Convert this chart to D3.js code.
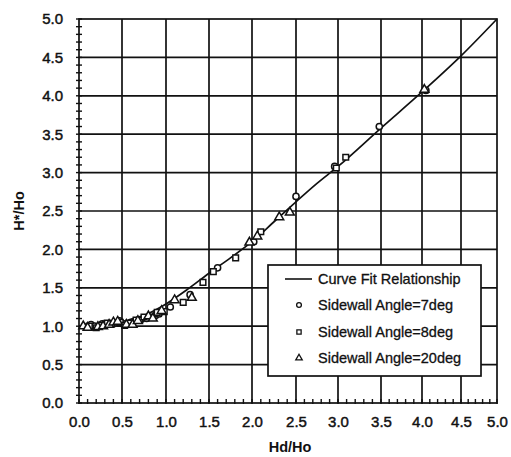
<!DOCTYPE html>
<html>
<head>
<meta charset="utf-8">
<script src="https://cdn.jsdelivr.net/npm/d3@7"></script>
<style>
  body { margin: 0; background: #fff; }
  svg { font-family: "Liberation Sans", Arial, sans-serif; }
</style>
</head>
<body>
<svg id="chart" width="511" height="457"></svg>
<script>
// tick values (both axes use 0.0 .. 5.0 by 0.5)
const tickVals = [0, 0.5, 1, 1.5, 2, 2.5, 3, 3.5, 4, 4.5, 5];

// curve fit relationship
const curveX = [0, 0.25, 0.5, 0.75, 1.0, 1.25, 1.5, 1.75, 2.0, 2.25, 2.5, 2.75, 3.0, 3.5, 4.0, 4.5, 5.0];
const curveY = [1.0, 1.01, 1.05, 1.14, 1.29, 1.48, 1.69, 1.89, 2.1, 2.36, 2.62, 2.86, 3.08, 3.58, 4.05, 4.52, 5.0];

// sidewall angle = 7deg (circles)
const angle7X = [0.08, 0.14, 0.18, 0.27, 0.3, 0.42, 0.47, 0.52, 0.6, 0.63, 0.72, 0.78, 0.88, 0.92, 1.05, 1.28, 1.6, 2.02, 2.5, 2.96, 3.48, 4.05];
const angle7Y = [0.99, 1.02, 1.0, 1.03, 1.02, 1.04, 1.07, 1.03, 1.05, 1.06, 1.09, 1.1, 1.14, 1.16, 1.25, 1.41, 1.76, 2.1, 2.69, 3.08, 3.6, 4.07];

// sidewall angle = 8deg (squares)
const angle8X = [0.12, 0.2, 0.25, 0.33, 0.38, 0.48, 0.53, 0.58, 0.66, 0.7, 0.75, 0.85, 0.9, 0.98, 1.2, 1.43, 1.55, 1.81, 2.1, 2.98, 3.09];
const angle8Y = [1.0, 0.98, 1.01, 1.04, 1.03, 1.05, 1.01, 1.04, 1.08, 1.08, 1.12, 1.12, 1.18, 1.19, 1.31, 1.57, 1.71, 1.89, 2.23, 3.06, 3.2];

// sidewall angle = 20deg (triangles)
const angle20X = [0.05, 0.1, 0.22, 0.28, 0.35, 0.4, 0.45, 0.55, 0.62, 0.68, 0.8, 0.85, 0.95, 1.1, 1.3, 1.97, 2.06, 2.31, 2.43, 4.03];
const angle20Y = [1.0, 0.98, 0.99, 1.0, 1.02, 1.05, 1.06, 1.02, 1.02, 1.07, 1.13, 1.1, 1.2, 1.34, 1.37, 2.09, 2.17, 2.42, 2.48, 4.08];

const legendLabels = ["Curve Fit Relationship", "Sidewall Angle=7deg", "Sidewall Angle=8deg", "Sidewall Angle=20deg"];

const svg = d3.select("#chart");
const plotTop = 19, plotBottom = 403;

// the scanned x axis is slightly uneven, so map each grid value to where it sits
const x = d3.scaleLinear()
  .domain(tickVals)
  .range([79, 122, 166, 209, 252, 296, 338, 381, 422, 461, 497]);
const y = d3.scaleLinear().domain([0, 5]).range([plotBottom, plotTop]);
const plotLeft = x(0), plotRight = x(5);

// grid
const grid = svg.append("g").attr("stroke", "#111").attr("stroke-width", 1.7);
grid.selectAll(".gx").data(tickVals.slice(1, -1)).enter().append("line")
  .attr("x1", d => x(d)).attr("x2", d => x(d)).attr("y1", plotTop).attr("y2", plotBottom);
grid.selectAll(".gy").data(tickVals.slice(1, -1)).enter().append("line")
  .attr("y1", d => y(d)).attr("y2", d => y(d)).attr("x1", plotLeft).attr("x2", plotRight);

// frame
svg.append("rect")
  .attr("x", plotLeft).attr("y", plotTop)
  .attr("width", plotRight - plotLeft).attr("height", plotBottom - plotTop)
  .attr("fill", "none").attr("stroke", "#111").attr("stroke-width", 1.7);

// minor ticks
const minor = d3.range(0, 5.01, 0.1);
svg.append("g").attr("stroke", "#111").attr("stroke-width", 1.4)
  .selectAll("line").data(minor).enter().append("line")
  .attr("x1", plotLeft - 3).attr("x2", plotLeft + 3)
  .attr("y1", d => y(d)).attr("y2", d => y(d));
svg.append("g").attr("stroke", "#111").attr("stroke-width", 1.4)
  .selectAll("line").data(minor).enter().append("line")
  .attr("x1", d => x(d)).attr("x2", d => x(d))
  .attr("y1", plotBottom - 4).attr("y2", plotBottom + 1);

// axes labels
const xAxis = d3.axisBottom(x).tickValues(tickVals).tickFormat(d3.format(".1f")).tickSize(0).tickPadding(13);
const xg = svg.append("g").attr("transform", `translate(0,${plotBottom})`).call(xAxis);
const yAxis = d3.axisLeft(y).tickValues(tickVals).tickFormat(d3.format(".1f")).tickSize(0).tickPadding(16);
const yg = svg.append("g").attr("transform", `translate(${plotLeft},0)`).call(yAxis);
[xg, yg].forEach(g => {
  g.select(".domain").remove();
  g.selectAll("text").attr("font-size", 15).attr("fill", "#111")
    .attr("stroke", "#111").attr("stroke-width", 0.45)
    .attr("font-family", "'Liberation Sans', Arial, sans-serif");
});

svg.append("text").attr("x", 290).attr("y", 452)
  .attr("text-anchor", "middle").attr("font-size", 14.5).attr("font-weight", "bold").attr("fill", "#111")
  .text("Hd/Ho");
svg.append("text").attr("transform", "translate(24,211) rotate(-90)")
  .attr("text-anchor", "middle").attr("font-size", 14.5).attr("font-weight", "bold").attr("fill", "#111")
  .text("H*/Ho");

// curve
const curvePts = curveX.map((v, i) => [v, curveY[i]]);
svg.append("path").datum(curvePts)
  .attr("fill", "none").attr("stroke", "#111").attr("stroke-width", 1.7)
  .attr("d", d3.line().x(d => x(d[0])).y(d => y(d[1])).curve(d3.curveMonotoneX));

// markers
const sym = {
  circle: d3.symbol().type(d3.symbolCircle).size(30),
  square: d3.symbol().type(d3.symbolSquare).size(32),
  triangle: d3.symbol().type(d3.symbolTriangle).size(34)
};
function drawSeries(xs, ys, s) {
  svg.append("g").selectAll("path").data(xs.map((v, i) => [v, ys[i]])).enter().append("path")
    .attr("transform", d => `translate(${x(d[0])},${y(d[1])})`)
    .attr("d", sym[s]).attr("fill", "#fff").attr("stroke", "#111").attr("stroke-width", 1.5);
}
drawSeries(angle7X, angle7Y, "circle");
drawSeries(angle8X, angle8Y, "square");
drawSeries(angle20X, angle20Y, "triangle");

// legend
const lg = svg.append("g");
lg.append("rect").attr("x", 268).attr("y", 265).attr("width", 213).attr("height", 111)
  .attr("fill", "#fff").attr("stroke", "#111").attr("stroke-width", 1.7);
const rowY = [279, 305, 332, 358];
lg.append("line").attr("x1", 285).attr("x2", 312).attr("y1", rowY[0]).attr("y2", rowY[0])
  .attr("stroke", "#111").attr("stroke-width", 1.6);
["circle", "square", "triangle"].forEach((s, i) => {
  lg.append("path").attr("transform", `translate(299,${rowY[i + 1]})`)
    .attr("d", d3.symbol().type(s === "circle" ? d3.symbolCircle : s === "square" ? d3.symbolSquare : d3.symbolTriangle).size(18))
    .attr("fill", "#fff").attr("stroke", "#111").attr("stroke-width", 1.3);
});
lg.selectAll("text").data(legendLabels).enter().append("text")
  .attr("x", 318).attr("y", (d, i) => rowY[i] + 5)
  .attr("font-size", 14.5).attr("fill", "#111")
  .attr("stroke", "#111").attr("stroke-width", 0.3)
  .text(d => d);
</script>
</body>
</html>
